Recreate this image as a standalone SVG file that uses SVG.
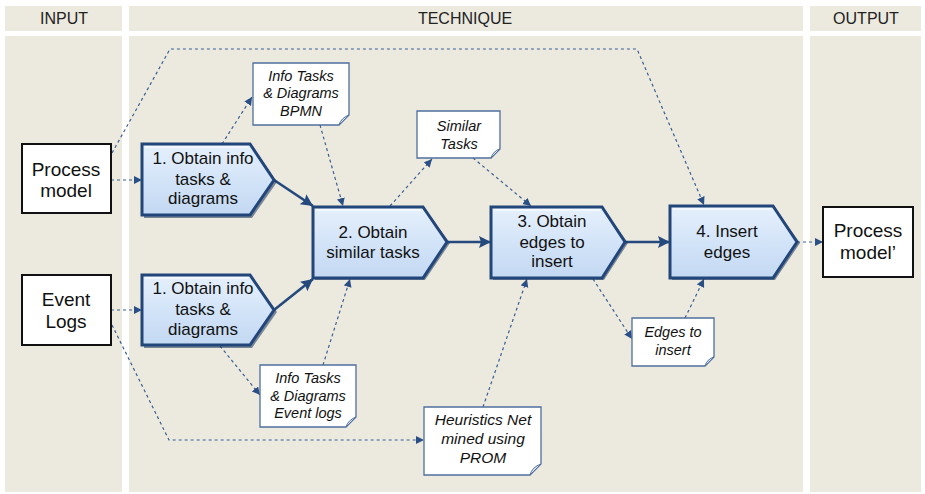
<svg xmlns="http://www.w3.org/2000/svg" width="925" height="494" viewBox="0 0 925 494">
<defs>
<style>
.panel{fill:#ece9df}
.hdr{font-family:"Liberation Sans",Arial,sans-serif;font-size:16px;fill:#222;text-anchor:middle}
.box{fill:#fff;stroke:#111;stroke-width:2}
.boxt{font-family:"Liberation Sans",Arial,sans-serif;font-size:19px;fill:#111;text-anchor:middle}
.step{fill:url(#stepGrad);stroke:#23467a;stroke-width:3;stroke-linejoin:miter}
.stepHi{fill:none;stroke:#ffffff;stroke-opacity:0.7;stroke-width:1.5}
.stepSh{fill:#1c3557;opacity:0.55}
.stept{font-family:"Liberation Sans",Arial,sans-serif;font-size:17px;fill:#111;text-anchor:middle}
.doc{fill:#fff;stroke:#4f6f9f;stroke-width:1.3}
.fold{fill:#dbe6f4;stroke:#4f6f9f;stroke-width:1}
.doct{font-family:"Liberation Sans",Arial,sans-serif;font-size:14.5px;font-style:italic;fill:#111;text-anchor:middle}
.dash{fill:none;stroke:#3a5f93;stroke-width:1.2;stroke-dasharray:3,3;marker-end:url(#ad)}
.dashn{fill:none;stroke:#3a5f93;stroke-width:1.2;stroke-dasharray:3,3}
.solid{fill:none;stroke:#24497c;stroke-width:2.6;marker-end:url(#as)}
</style>
<linearGradient id="stepGrad" x1="0" y1="0" x2="0" y2="1">
<stop offset="0" stop-color="#e6f0fc"/>
<stop offset="0.5" stop-color="#d3e4f8"/>
<stop offset="1" stop-color="#c3d8f2"/>
</linearGradient>
<marker id="ad" markerUnits="userSpaceOnUse" markerWidth="9" markerHeight="9" refX="8" refY="4" orient="auto">
<path d="M0,0 L8,4 L0,8 z" fill="#2a4f85"/>
</marker>
<marker id="as" markerUnits="userSpaceOnUse" markerWidth="14" markerHeight="14" refX="12" refY="6" orient="auto">
<path d="M0,0 L12,6 L0,12 L2,6 z" fill="#24497c"/>
</marker>
</defs>
<rect width="925" height="494" fill="#ffffff"/>
<g id="panels">
<rect class="panel" x="5" y="6" width="117" height="25"/>
<rect class="panel" x="129" y="6" width="674" height="25"/>
<rect class="panel" x="810" y="6" width="111" height="25"/>
<rect class="panel" x="5" y="36" width="117" height="456"/>
<rect class="panel" x="129" y="36" width="674" height="456"/>
<rect class="panel" x="810" y="36" width="111" height="456"/>
<text class="hdr" x="64" y="24">INPUT</text>
<text class="hdr" x="465" y="24">TECHNIQUE</text>
<text class="hdr" x="866" y="24">OUTPUT</text>
</g>
<g id="connectors">
<path class="dash" d="M111,180 L142,180"/>
<path class="dash" d="M111,310 L142,310"/>
<path class="dash" d="M112,153 L170,49 L637,49 L704,205"/>
<path class="dash" d="M112,325 L169,440 L424,440"/>
<path class="dash" d="M222,144 L252,97"/>
<path class="dash" d="M320,125 L343,206"/>
<path class="dash" d="M220,346 L260,395"/>
<path class="dash" d="M323,365 L350,279"/>
<path class="dash" d="M390,206 L432,159"/>
<path class="dash" d="M473,158 L531,206"/>
<path class="dash" d="M483,407 L527,279"/>
<path class="dash" d="M593,279 L632,339"/>
<path class="dash" d="M685,318 L704,279"/>
<path class="dash" d="M797,242 L823,242"/>
<path class="solid" d="M274,180 L313,206"/>
<path class="solid" d="M274,310 L313,279"/>
<path class="solid" d="M447,242 L491,242"/>
<path class="solid" d="M625,242 L670,242"/>
</g>
<g id="process-model">
<rect class="box" x="22" y="144" width="89" height="69"/>
<text class="boxt" x="66" y="176">Process</text>
<text class="boxt" x="66" y="197">model</text>
</g>
<g id="event-logs">
<rect class="box" x="22" y="275" width="89" height="70"/>
<text class="boxt" x="66" y="306">Event</text>
<text class="boxt" x="66" y="328">Logs</text>
</g>
<g id="process-model-out">
<rect class="box" x="823" y="207" width="90" height="70"/>
<text class="boxt" x="868" y="237">Process</text>
<text class="boxt" x="868" y="259">model’</text>
</g>
<g id="step1a">
<path class="stepSh" d="M252,146 L277,182 L252,218 H144 V215 H250 L274,180 L250,146 Z"/>
<path class="step" d="M142,144 H250 L274,180 L250,215 H142 Z"/>
<path class="stepHi" d="M145,147 H248"/>
<text class="stept" x="203" y="164">1. Obtain info</text>
<text class="stept" x="203" y="185">tasks &amp;</text>
<text class="stept" x="203" y="204">diagrams</text>
</g>
<g id="step1b">
<path class="stepSh" d="M252,277 L277,312 L252,348 H144 V345 H250 L274,310 L250,277 Z"/>
<path class="step" d="M142,275 H250 L274,310 L250,345 H142 Z"/>
<path class="stepHi" d="M145,278 H248"/>
<text class="stept" x="203" y="294">1. Obtain info</text>
<text class="stept" x="203" y="315">tasks &amp;</text>
<text class="stept" x="203" y="335">diagrams</text>
</g>
<g id="step2">
<path class="stepSh" d="M425,209 L450,243 L425,280 H315 V278 H423 L447,242 L423,209 Z"/>
<path class="step" d="M313,207 H423 L447,242 L423,278 H313 Z"/>
<path class="stepHi" d="M316,210 H421"/>
<text class="stept" x="373" y="238">2. Obtain</text>
<text class="stept" x="373" y="258">similar tasks</text>
</g>
<g id="step3">
<path class="stepSh" d="M604,209 L628,243 L604,280 H493 V278 H602 L625,242 L602,209 Z"/>
<path class="step" d="M491,207 H602 L625,242 L602,278 H491 Z"/>
<path class="stepHi" d="M494,210 H600"/>
<text class="stept" x="552" y="227">3. Obtain</text>
<text class="stept" x="552" y="248">edges to</text>
<text class="stept" x="552" y="267">insert</text>
</g>
<g id="step4">
<path class="stepSh" d="M775,208 L800,243 L775,280 H672 V278 H773 L797,242 L773,208 Z"/>
<path class="step" d="M670,206 H773 L797,242 L773,278 H670 Z"/>
<path class="stepHi" d="M673,209 H771"/>
<text class="stept" x="727" y="237">4. Insert</text>
<text class="stept" x="727" y="258">edges</text>
</g>
<g id="doc-bpmn">
<path class="doc" d="M253,63 H349 V115 L339,125 H253 Z"/>
<path class="fold" d="M349,115 L339,125 Q341,118 349,115 Z"/>
<text class="doct" x="301" y="81">Info Tasks</text>
<text class="doct" x="301" y="98">&amp; Diagrams</text>
<text class="doct" x="301" y="116">BPMN</text>
</g>
<g id="doc-similar">
<path class="doc" d="M417,111 H500 V149 L491,158 H417 Z"/>
<path class="fold" d="M500,149 L491,158 Q493,151 500,149 Z"/>
<text class="doct" x="459" y="131">Similar</text>
<text class="doct" x="459" y="149">Tasks</text>
</g>
<g id="doc-eventlogs">
<path class="doc" d="M260,365 H356 V417 L346,427 H260 Z"/>
<path class="fold" d="M356,417 L346,427 Q348,420 356,417 Z"/>
<text class="doct" x="308" y="383">Info Tasks</text>
<text class="doct" x="308" y="401">&amp; Diagrams</text>
<text class="doct" x="308" y="418">Event logs</text>
</g>
<g id="doc-heuristics">
<path class="doc" d="M424,407 H541 V464 L530,475 H424 Z"/>
<path class="fold" d="M541,464 L530,475 Q532,467 541,464 Z"/>
<text class="doct" x="483" y="425" style="font-size:15.5px">Heuristics Net</text>
<text class="doct" x="483" y="444" style="font-size:15.5px">mined using</text>
<text class="doct" x="483" y="463" style="font-size:15.5px">PROM</text>
</g>
<g id="doc-edges">
<path class="doc" d="M632,318 H714 V357 L705,366 H632 Z"/>
<path class="fold" d="M714,357 L705,366 Q707,359 714,357 Z"/>
<text class="doct" x="673" y="337">Edges to</text>
<text class="doct" x="673" y="355">insert</text>
</g>
</svg>
